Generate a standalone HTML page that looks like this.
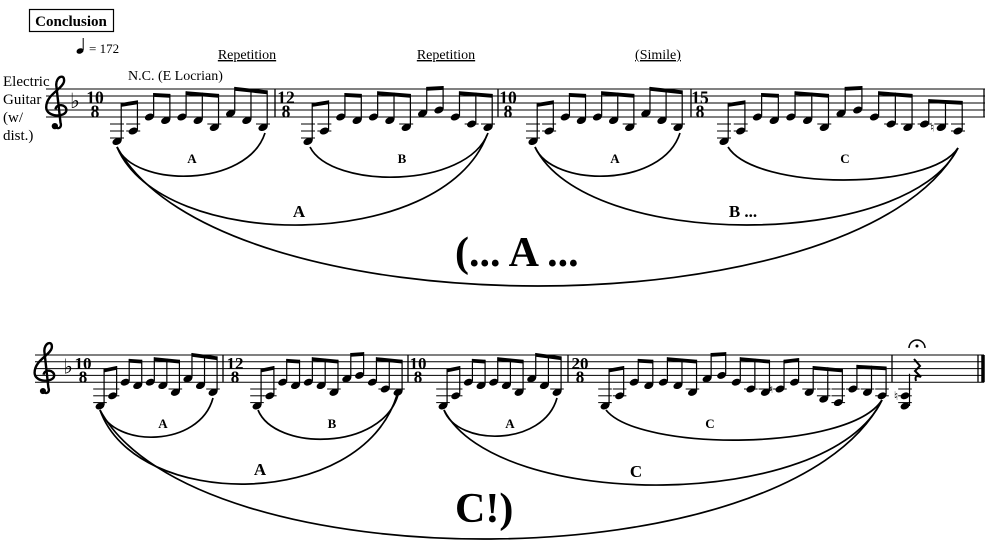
<!DOCTYPE html>
<html><head><meta charset="utf-8"><style>
html,body{margin:0;padding:0;background:#fff;width:991px;height:552px;overflow:hidden}
svg{display:block}
text{font-family:"Liberation Serif",serif;fill:#000}
</style></head><body>
<svg id="s" width="991" height="552" viewBox="0 0 991 552" xmlns="http://www.w3.org/2000/svg">
<rect x="29.5" y="9.5" width="84" height="22" fill="none" stroke="#000" stroke-width="1.2"/>
<text x="71" y="26" font-size="15" font-weight="bold" text-anchor="middle">Conclusion</text>
<ellipse cx="80" cy="51" rx="3.6" ry="2.6" transform="rotate(-20 80 51)"/>
<line x1="83.2" y1="50" x2="83.2" y2="38" stroke="#000" stroke-width="1"/>
<text x="89" y="53" font-size="13">= 172</text>
<text x="247" y="59" font-size="14" text-anchor="middle" text-decoration="underline">Repetition</text>
<text x="446" y="59" font-size="14" text-anchor="middle" text-decoration="underline">Repetition</text>
<text x="658" y="59" font-size="14" text-anchor="middle" text-decoration="underline">(Simile)</text>
<text x="128" y="80" font-size="14">N.C.  (E Locrian)</text>
<text x="3" y="86" font-size="15">Electric</text>
<text x="3" y="104" font-size="15">Guitar</text>
<text x="3" y="122" font-size="15">(w/</text>
<text x="3" y="140" font-size="15">dist.)</text>
<g font-weight="bold" text-anchor="middle">
<text x="192" y="163" font-size="13">A</text>
<text x="402" y="163" font-size="13">B</text>
<text x="615" y="163" font-size="13">A</text>
<text x="845" y="163" font-size="13">C</text>
<text x="299" y="217" font-size="17">A</text>
<text x="743" y="217" font-size="17">B ...</text>
<text x="163" y="428" font-size="13">A</text>
<text x="332" y="428" font-size="13">B</text>
<text x="510" y="428" font-size="13">A</text>
<text x="710" y="428" font-size="13">C</text>
<text x="260" y="475" font-size="17">A</text>
<text x="636" y="477" font-size="17">C</text>
</g>
<text x="455" y="266" font-size="42" font-weight="bold">(... A ...</text>
<text x="455" y="522" font-size="42" font-weight="bold">C!)</text>
<g id="g"></g>
</svg>
<script>
var g=document.getElementById('g');var h='';
function L(x1,y1,x2,y2,w){h+='<line x1="'+x1+'" y1="'+y1+'" x2="'+x2+'" y2="'+y2+'" stroke="#000" stroke-width="'+w+'"/>';}
function staff(x0,x1,top,sp){for(var i=0;i<5;i++)L(x0,top+i*sp,x1,top+i*sp,1);}
function clef(cx,top,sp){var p=[[-0.4,5.3],[0,5.9],[0.5,5.5],[0.3,4.8],[-0.2,-0.5],[-0.3,-1.8],[0.9,-2.3],[0.7,-1.0],[0.5,0],[-1.4,0.8],[-1.4,2.6],[-1.4,4.1],[1.0,4.1],[1.0,3.0],[1.0,2.2],[-0.2,2.0],[-0.3,2.9]];
function P(i){return (cx+p[i][0]*sp*1.2).toFixed(1)+' '+(top+p[i][1]*sp).toFixed(1);}
var d='M'+P(0)+' C'+P(1)+' '+P(2)+' '+P(3)+' L'+P(4)+' C'+P(5)+' '+P(6)+' '+P(7)+' C'+P(8)+' '+P(9)+' '+P(10)+' C'+P(11)+' '+P(12)+' '+P(13)+' C'+P(14)+' '+P(15)+' '+P(16);
h+='<path d="'+d+'" fill="none" stroke="#000" stroke-width="2.4"/>';
h+='<circle cx="'+(cx-0.45*sp)+'" cy="'+(top+5.3*sp)+'" r="'+(sp*0.45)+'"/>';}
function ts(cx,top,sp,a,b){h+='<text x="'+cx+'" y="'+(top+2*sp+0.5)+'" font-size="'+(sp*2.5)+'" font-weight="bold" text-anchor="middle">'+a+'</text><text x="'+cx+'" y="'+(top+4*sp+0.5)+'" font-size="'+(sp*2.5)+'" font-weight="bold" text-anchor="middle">'+b+'</text>';}
function flat(x,top,sp){h+='<text x="'+x+'" y="'+(top+2.7*sp)+'" font-size="'+(sp*3)+'" text-anchor="middle">♭</text>';}
var S={E3:-7,F3:-6,G3:-5,A3:-4,B3:-3,C4:-2,D4:-1,E4:0,F4:1,G4:2};
function head(x,y,sp){h+='<ellipse cx="'+x+'" cy="'+y+'" rx="'+(sp*0.68)+'" ry="'+(sp*0.47)+'" transform="rotate(-22 '+x+' '+y+')"/>';}
function ledger(x,s,bot,sp){for(var k=-2;k>=s;k-=2){var y=bot-k*sp/2;L(x-sp*1.0,y,x+sp*1.0,y,1);}}
function meas(xa,xb,top,sp,notes,groups,nats){
 var bot=top+4*sp,n=notes.length,dx=(xb-xa)/(n-1),i=0;
 groups.forEach(function(c){var xs=[],ys=[];
  for(var j=0;j<c;j++,i++){var s=S[notes[i]],x=xa+i*dx,y=bot-s*sp/2;xs.push(x);ys.push(y);ledger(x,s,bot,sp);head(x,y,sp);
   if(nats&&nats.indexOf(i)>=0)h+='<text x="'+(x-sp*1.3)+'" y="'+(y+sp*0.6)+'" font-size="'+(sp*1.7)+'" text-anchor="middle">♮</text>';}
  var base=Math.min(Math.min.apply(null,ys)-sp*3.3,top+2*sp);
  var slope=(ys[ys.length-1]-ys[0])*0.25;var y0=base-Math.max(0,slope)+0, y1=y0+slope;
  for(var k=0;k<xs.length;k++){var t=xs.length>1?k/(xs.length-1):0,sx=xs[k]+sp*0.6,by=y0+(y1-y0)*t;L(sx,ys[k]-1,sx,by,1.2);}
  var sx0=xs[0]+sp*0.6,sx1=xs[xs.length-1]+sp*0.6;
  h+='<polygon points="'+sx0+','+y0+' '+sx1+','+y1+' '+sx1+','+(y1+sp*0.55)+' '+sx0+','+(y0+sp*0.55)+'"/>';
 });}
var A=['E3','A3','E4','D4','E4','D4','B3','F4','D4','B3'],AG=[2,2,3,3];
var B=['E3','A3','E4','D4','E4','D4','B3','F4','G4','E4','C4','B3'],BG=[2,2,3,2,3];
var C15=B.concat(['C4','B3','A3']),CG=[2,2,3,2,3,3];
var C20=B.concat(['C4','E4','B3','G3','F3','C4','B3','A3']),C20G=[2,2,3,2,3,2,3,3];
function arc(x1,y1,x2,y2,bot){var yc=(bot-0.125*(y1+y2))/0.75,d=(x2-x1)*0.12;
 h+='<path d="M'+x1+' '+y1+' C'+(x1+d)+' '+yc+' '+(x2-d)+' '+yc+' '+x2+' '+y2+'" fill="none" stroke="#000" stroke-width="1.7"/>';}
var t1=89,p1=7;staff(46,985,t1,p1);clef(58,t1,p1);flat(75,t1,p1);ts(95,t1,p1,'10','8');
L(275,t1,275,t1+28,1.3);ts(286,t1,p1,'12','8');L(498,t1,498,t1+28,1.3);ts(508,t1,p1,'10','8');
L(691,t1,691,t1+28,1.3);ts(700,t1,p1,'15','8');L(984,t1,984,t1+28,1.3);
meas(117,263,t1,p1,A,AG);meas(308,488,t1,p1,B,BG);meas(533,678,t1,p1,A,AG);meas(724,958,t1,p1,C15,CG,[13]);
arc(117,147,265,133,176);arc(310,147,488,133,177);arc(535,147,680,133,176);arc(728,147,958,148,180);
arc(117,147,487,135,225);arc(535,147,958,148,225);arc(117,147,958,148,286);
var t2=355,p2=6.8;staff(35,984,t2,p2);clef(46,t2,p2);flat(68,t2,p2);ts(83,t2,p2,'10','8');
L(223,t2,223,t2+27.2,1.3);ts(235,t2,p2,'12','8');L(408,t2,408,t2+27.2,1.3);ts(418,t2,p2,'10','8');
L(568,t2,568,t2+27.2,1.3);ts(580,t2,p2,'20','8');L(892,t2,892,t2+27.2,1.3);
L(978,t2,978,t2+27.2,1.3);L(983,t2,983,t2+27.2,3.5);
meas(100,213,t2,p2,A,AG);meas(257,398,t2,p2,B,BG);meas(443,557,t2,p2,A,AG);meas(605,882,t2,p2,C20,C20G,[12]);
var b2=t2+4*p2,ya=b2+4*p2/2,ye=b2+7*p2/2;ledger(905,-7,b2,p2);head(905,ya,p2);head(905,ye,p2);
L(909.5,ye,909.5,ya-22,1.2);h+='<text x="896" y="'+(ya+4)+'" font-size="12" text-anchor="middle">♮</text>';
h+='<path d="M914 359 L920 366 L915 371 L921 377 Q914 374 916 381" fill="none" stroke="#000" stroke-width="2"/>';
h+='<path d="M909 348 A8 8 0 0 1 925 348" fill="none" stroke="#000" stroke-width="1.5"/><circle cx="917" cy="346" r="1.5"/>';
arc(100,410,213,398,437);arc(258,410,398,395,439);arc(444,410,557,398,436);arc(606,410,882,400,440);
arc(100,410,397,395,484);arc(444,410,882,400,485);arc(100,410,882,400,539);
g.innerHTML=h;
</script>
</body></html>
